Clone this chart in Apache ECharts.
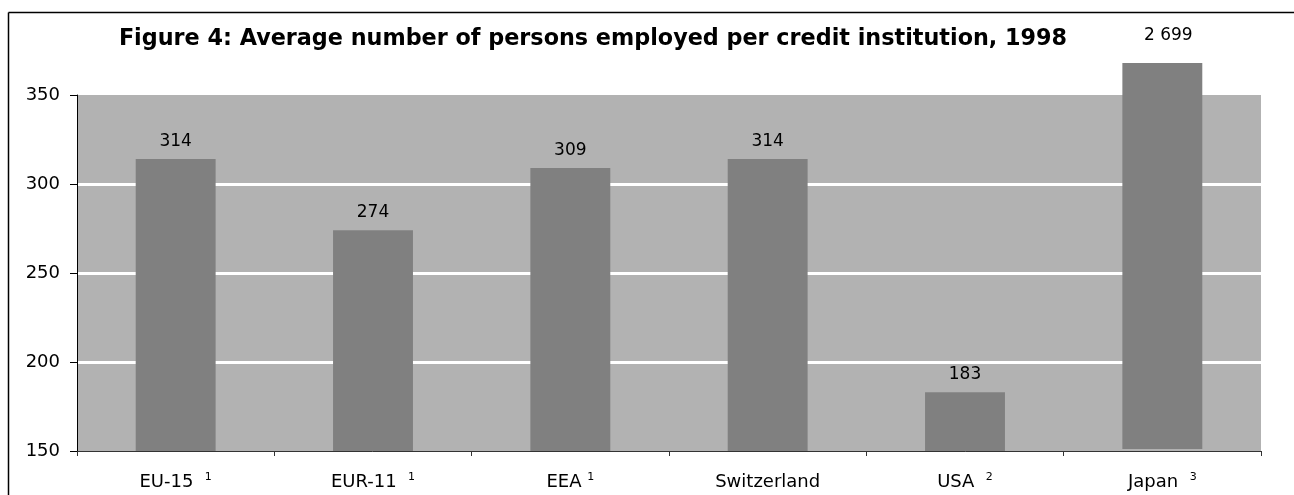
<!DOCTYPE html>
<html>
<head>
<meta charset="utf-8">
<script src="https://cdn.jsdelivr.net/npm/echarts@6/dist/echarts.min.js"></script>
<style>
html,body{margin:0;padding:0;background:#fff;}
#chart{width:1294px;height:495px;}
</style>
</head>
<body>
<div id="chart"></div>
<script>
const titleText = 'Figure 4: Average number of persons employed per credit institution, 1998';
const categories = ['EU-15', 'EUR-11', 'EEA', 'Switzerland', 'USA', 'Japan'];
const footnotes = ['1', '1', '1', '', '2', '3'];
const values = [314, 274, 309, 314, 183, 2699];
const valueLabels = ['314', '274', '309', '314', '183', '2 699'];
const yTicks = [150, 200, 250, 300, 350];
const brokenBarTop = 368; // Japan's bar is drawn cut off just above the axis maximum

const chart = echarts.init(document.getElementById('chart'));
const FONT = '"DejaVu Sans", sans-serif';
const yMin = yTicks[0], yMax = yTicks[yTicks.length - 1];

const data = values.map((v, i) => [i, Math.min(v, brokenBarTop), valueLabels[i], v > yMax ? 1 : 0]);

chart.setOption({
  animation: false,
  backgroundColor: '#ffffff',
  title: {
    text: titleText,
    left: 588, top: 23, textAlign: 'center',
    textStyle: { fontFamily: FONT, fontSize: 22.3, fontWeight: 'bold', color: '#000' }
  },
  grid: {
    left: 77, right: 33, top: 95, bottom: 44,
    show: true, backgroundColor: '#b2b2b2', borderWidth: 0,
    outerBoundsMode: 'none'
  },
  xAxis: {
    type: 'category',
    data: categories,
    boundaryGap: true,
    axisLine: { show: true, lineStyle: { color: '#333', width: 1 } },
    axisTick: { show: true, interval: 0, length: 5, lineStyle: { color: '#333' } },
    axisLabel: {
      interval: 0,
      hideOverlap: false,
      margin: 21,
      fontFamily: FONT, fontSize: 18, color: '#000',
      formatter: (val, idx) => footnotes[idx]
        ? '{n|' + val + (val === 'EEA' ? ' ' : '  ') + '}{s|' + footnotes[idx] + '}'
        : '{n|' + val + '}{e| }',
      rich: {
        n: { fontFamily: FONT, fontSize: 18, color: '#000' },
        s: { fontFamily: FONT, fontSize: 11, color: '#000', verticalAlign: 'top', padding: [0, 0, 9, 0] },
        e: { fontFamily: FONT, fontSize: 11, color: '#000', verticalAlign: 'top', padding: [0, 0, 9, 0], width: 0 }
      }
    },
    splitLine: { show: false }
  },
  yAxis: {
    type: 'value',
    min: yMin, max: yMax, interval: 50,
    axisLine: { show: true, lineStyle: { color: '#000', width: 1 } },
    axisTick: { show: true, length: 7, lineStyle: { color: '#000' } },
    axisLabel: { margin: 17, fontFamily: FONT, fontSize: 18, color: '#000' },
    splitLine: { show: true, showMinLine: false, showMaxLine: false, lineStyle: { color: '#ffffff', width: 3 } }
  },
  series: [{
    type: 'custom',
    clip: false,
    data: data,
    renderItem: function (params, api) {
      const i = api.value(0);
      const v = api.value(1);
      const top = api.coord([i, v]);
      const bottom = api.coord([i, yMin]);
      const bw = api.size([1, 0])[0] * 0.405;
      const broken = api.value(3) === 1;
      return {
        type: 'group',
        children: [
          {
            type: 'rect',
            shape: { x: top[0] - bw / 2, y: top[1], width: bw, height: (broken ? bottom[1] - 2 : bottom[1]) - top[1] },
            style: { fill: '#808080' }
          },
          {
            type: 'text',
            x: top[0] + (broken ? 6 : 0), y: top[1] - (broken ? 19 : 9),
            style: {
              text: valueLabels[params.dataIndex],
              fontFamily: FONT, fontSize: 17, fill: '#000',
              align: 'center', verticalAlign: 'bottom'
            }
          }
        ]
      };
    }
  }],
  graphic: [
    { type: 'line', shape: { x1: 8.5, y1: 12.5, x2: 1294, y2: 12.5 }, style: { stroke: '#000', lineWidth: 1.5 }, z: 100 },
    { type: 'line', shape: { x1: 8.5, y1: 12.5, x2: 8.5, y2: 495 }, style: { stroke: '#000', lineWidth: 1.5 }, z: 100 }
  ]
});
</script>
</body>
</html>
